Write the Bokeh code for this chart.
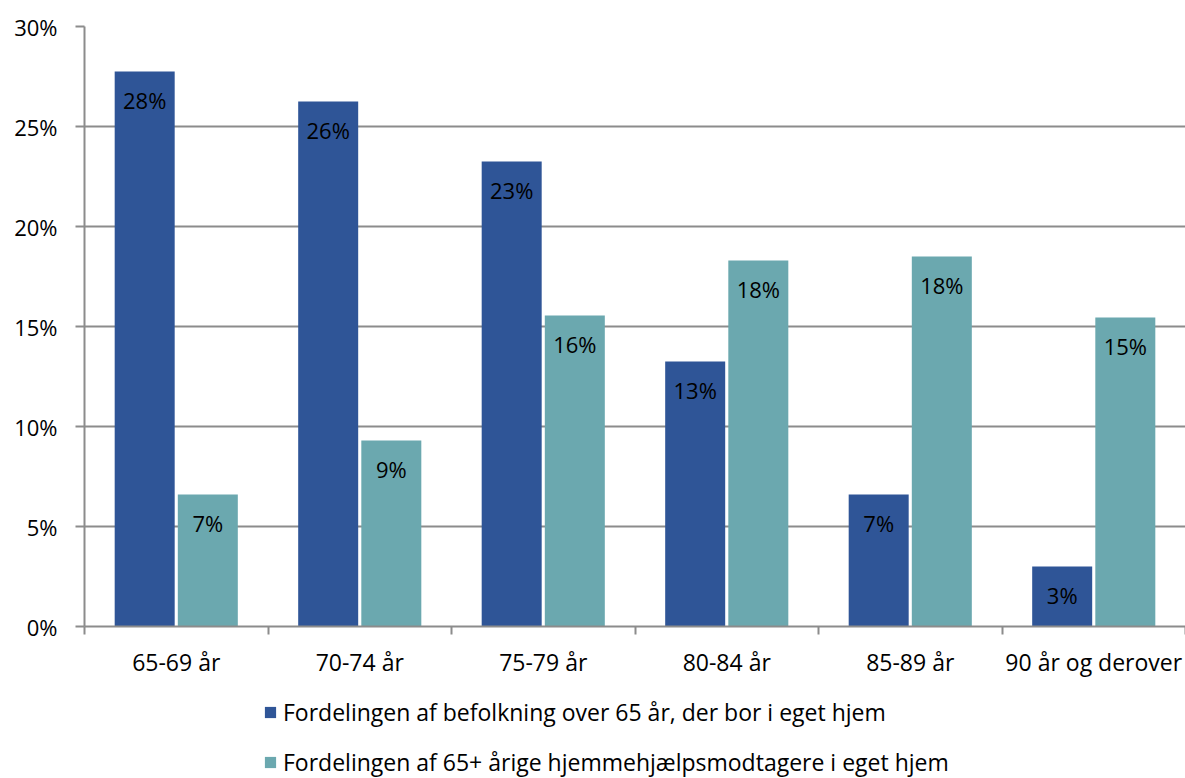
from bokeh.plotting import figure
from bokeh.layouts import column
from bokeh.models import FixedTicker, Legend, LegendItem, ColumnDataSource, NumeralTickFormatter
from bokeh.core.properties import value
from bokeh.embed import file_html
from bokeh.resources import INLINE

categories = ["65-69 år", "70-74 år", "75-79 år", "80-84 år", "85-89 år", "90 år og derover"]
befolkning = [27.75, 26.25, 23.25, 13.25, 6.6, 3.0]
hjemmehjaelp = [6.6, 9.3, 15.55, 18.3, 18.5, 15.45]
series_names = ["Fordelingen af befolkning over 65 år, der bor i eget hjem",
                "Fordelingen af 65+ årige hjemmehjælpsmodtagere i eget hjem"]
y_ticks = [0, 5, 10, 15, 20, 25, 30]

FONT = "Open Sans"
FS = "22px"
FS_TXT = "23px"
BLUE = "#2F5597"
TEAL = "#6BA8AF"
GRAY = "#8C8C8C"

p = figure(width=1185, height=688, output_backend="svg", toolbar_location=None,
           x_range=(0, len(categories)), y_range=(0, 30),
           min_border_left=84, min_border_right=0, min_border_top=26, min_border_bottom=62)
p.outline_line_color = None
p.background_fill_color = "white"
p.border_fill_color = "white"

centers = [i + 0.5 for i in range(len(categories))]
x_blue = [c - 0.172 for c in centers]
x_teal = [c + 0.172 for c in centers]

src_b = ColumnDataSource(dict(x=x_blue, top=befolkning, lab=[f"{round(v)}%" for v in befolkning]))
src_t = ColumnDataSource(dict(x=x_teal, top=hjemmehjaelp, lab=[f"{round(v)}%" for v in hjemmehjaelp]))

p.vbar(x="x", top="top", width=0.327, bottom=0, source=src_b, fill_color=BLUE, line_color=None)
p.vbar(x="x", top="top", width=0.327, bottom=0, source=src_t, fill_color=TEAL, line_color=None)

for s in (src_b, src_t):
    p.text(x="x", y="top", text="lab", source=s, text_align="center", text_baseline="middle",
           y_offset=28, text_font=value(FONT), text_font_size=FS, text_color="black")

# y axis
p.yaxis.ticker = FixedTicker(ticks=y_ticks)
p.yaxis.formatter = NumeralTickFormatter(format="0")
p.yaxis.major_label_overrides = {t: f"{t}%" for t in y_ticks}
p.yaxis.major_label_text_font = FONT
p.yaxis.major_label_text_font_size = FS
p.yaxis.major_label_text_color = "black"
p.yaxis.axis_line_color = GRAY
p.yaxis.axis_line_width = 2
p.yaxis.major_tick_line_color = GRAY
p.yaxis.major_tick_line_width = 2
p.yaxis.major_tick_out = 9
p.yaxis.major_tick_in = 0
p.yaxis.minor_tick_line_color = None
p.yaxis.major_label_standoff = 18

# x axis
p.xaxis.ticker = FixedTicker(ticks=centers, minor_ticks=list(range(len(categories) + 1)))
p.xaxis.major_label_overrides = {c: name for c, name in zip(centers, categories)}
p.xaxis.major_label_text_font = FONT
p.xaxis.major_label_text_font_size = FS_TXT
p.xaxis.major_label_text_color = "black"
p.xaxis.axis_line_color = GRAY
p.xaxis.axis_line_width = 2
p.xaxis.major_tick_line_color = None
p.xaxis.minor_tick_line_color = GRAY
p.xaxis.minor_tick_line_width = 2
p.xaxis.minor_tick_out = 8
p.xaxis.minor_tick_in = 0
p.xaxis.major_label_standoff = 11

p.xgrid.grid_line_color = None
p.ygrid.grid_line_color = GRAY
p.ygrid.grid_line_width = 2

# legend panel
q = figure(width=1185, height=90, output_backend="svg", toolbar_location=None,
           x_range=(0, 1), y_range=(0, 1), min_border=0)
q.axis.visible = False
q.grid.visible = False
q.outline_line_color = None
lb = q.vbar(x=[2], top=[0], bottom=0, width=0.1, fill_color=BLUE, line_color=None)
lt = q.vbar(x=[2], top=[0], bottom=0, width=0.1, fill_color=TEAL, line_color=None)
legend = Legend(items=[LegendItem(label=series_names[0], renderers=[lb], index=0),
                       LegendItem(label=series_names[1], renderers=[lt], index=0)],
                location=(179, 0), orientation="vertical",
                glyph_width=14, glyph_height=14, label_standoff=6,
                label_text_font=FONT, label_text_font_size=FS_TXT, label_text_color="black",
                padding=0, margin=0, spacing=18, border_line_color=None,
                background_fill_alpha=0)
q.add_layout(legend, "center")

layout = column(p, q, spacing=0)
open("out.html", "w").write(file_html(layout, INLINE))
